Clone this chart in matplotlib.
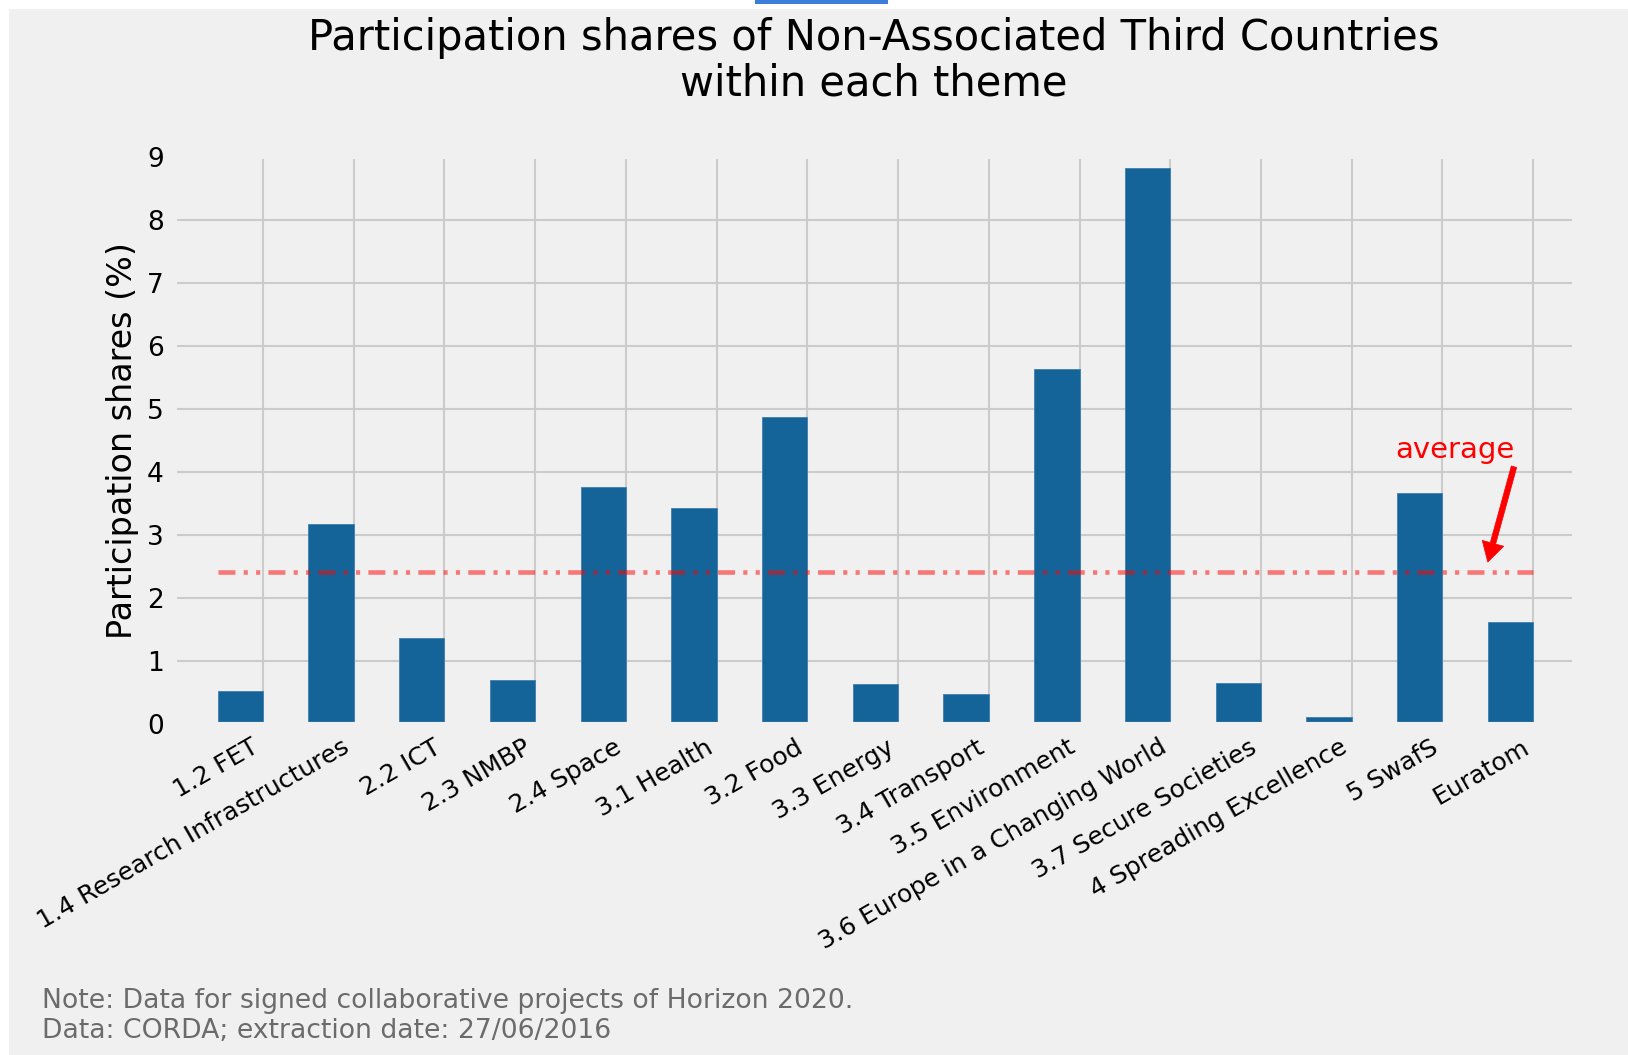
import numpy as np
import matplotlib
matplotlib.use('Agg')
from matplotlib import pyplot as plt
from matplotlib.patches import Rectangle

themes = ['1.2 FET', '1.4 Research Infrastructures', '2.2 ICT', '2.3 NMBP', '2.4 Space',
          '3.1 Health', '3.2 Food', '3.3 Energy', '3.4 Transport', '3.5 Environment',
          '3.6 Europe in a Changing World', '3.7 Secure Societies', '4 Spreading Excellence',
          '5 SwafS', 'Euratom']
shares = [0.52, 3.17, 1.36, 0.70, 3.76, 3.43, 4.88, 0.63, 0.47, 5.64, 8.82, 0.65, 0.11, 3.67, 1.62]
average = 2.41
yticks = list(range(0, 10))

plt.style.use('fivethirtyeight')

fig = plt.figure(figsize=(16.28, 10.55), dpi=100)
fig.patch.set_facecolor('#f0f0f0')
# white screenshot margins + the little blue tab at the top
fig.patches.append(Rectangle((0, 1 - 9 / 1055), 1, 9 / 1055, transform=fig.transFigure,
                             facecolor='white', edgecolor='none', zorder=0))
fig.patches.append(Rectangle((0, 0), 9 / 1628, 1, transform=fig.transFigure,
                             facecolor='white', edgecolor='none', zorder=0))
fig.patches.append(Rectangle((755 / 1628, 1 - 4 / 1055), 133 / 1628, 4 / 1055, transform=fig.transFigure,
                             facecolor='#3b7dd8', edgecolor='none', zorder=1))

ax = fig.add_axes([175 / 1628, 1 - 724 / 1055, (1574 - 175) / 1628, (724 - 157) / 1055])
ax.set_facecolor('#f0f0f0')

x = np.arange(len(themes))
ax.bar(x - 0.25, shares, width=0.5, color='#156499', edgecolor='#3f7fab', linewidth=0.6, zorder=2)

ax.hlines(average, -0.5, 14, colors='red', alpha=0.5, linewidth=3.3,
          linestyles=(0, (3.7, 1.8, 0.9, 1.8, 0.9, 1.8)), zorder=3)

ax.annotate('average', xy=(13.50, 2.57), xytext=(13.14, 4.35), color='red', fontsize=21,
            ha='center', va='center',
            arrowprops=dict(facecolor='red', edgecolor='red', width=4, headwidth=16,
                            headlength=14, shrink=0))

ax.set_xlim(-0.97, 14.45)
ax.set_ylim(0, 9)
ax.set_yticks(yticks)
ax.set_yticklabels([str(t) for t in yticks], fontsize=19)
ax.set_xticks(x)
ax.set_xticklabels(themes, rotation=30, ha='right', fontsize=18)
ax.yaxis.get_gridlines()[-1].set_visible(False)
ax.tick_params(axis='both', length=0, pad=8)
ax.set_ylabel('Participation shares (%)', fontsize=24, labelpad=6)
ax.grid(True, color='#cbcbcb', linewidth=1.5, zorder=0)
ax.set_axisbelow(True)

fig.suptitle('Participation shares of Non-Associated Third Countries\nwithin each theme',
             x=874 / 1628, y=1 - 17 / 1055, va='top', fontsize=30, linespacing=1.1)

fig.text(42 / 1628, 1 - 1016 / 1055,
         'Note: Data for signed collaborative projects of Horizon 2020.\nData: CORDA; extraction date: 27/06/2016',
         ha='left', va='center', fontsize=19.2, color='#6b6b6b', linespacing=1.22)

plt.savefig('out.png', dpi=100, facecolor=fig.get_facecolor())
